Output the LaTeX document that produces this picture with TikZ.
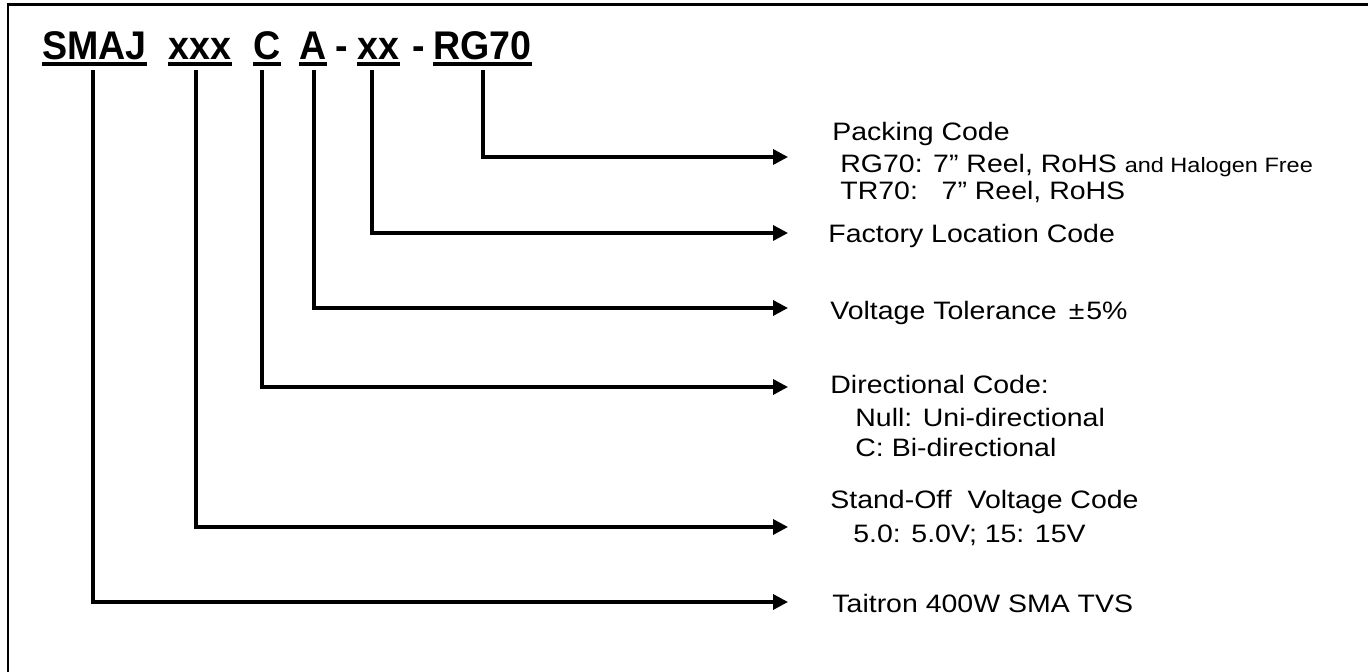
\documentclass[tikz,border=0pt]{standalone}
\usepackage{fontspec}
\setmainfont{Liberation Sans}
\newfontfamily\descfont{Liberation Sans}[FakeStretch=1.13]
\newfontfamily\titlefont{Liberation Sans}[FakeStretch=0.94]
\usetikzlibrary{arrows.meta}
\begin{document}
\begin{tikzpicture}[x=0.5pt,y=-0.5pt,
  ttl/.style={anchor=base west,inner sep=0pt,font=\titlefont\fontsize{20}{22}\selectfont\bfseries},
  desc/.style={anchor=base west,inner sep=0pt,font=\descfont\fontsize{12.6}{15}\selectfont},
  uline/.style={line width=2pt},
  conn/.style={line width=1.7pt,-{Triangle[length=7.5pt,width=7.5pt]}},
  frame/.style={line width=1.2pt}]
\useasboundingbox (0,0) rectangle (1368,672);
\draw[frame] (8,672) -- (8,4.5) -- (1368,4.5);
% title parts
\node[ttl] (smaj) at (42,60) {SMAJ};
\node[ttl] (xxx) at (168,60) {xxx};
\node[ttl] (c) at (253,60) {C};
\node[ttl] (a) at (299,60) {A};
\node[ttl] (d1) at (335,60) {-};
\node[ttl] (xx) at (357,60) {xx};
\node[ttl] (d2) at (412,60) {-};
\node[ttl] (rg) at (433,60) {RG70};
\foreach \n in {smaj,xxx,c,a,xx,rg}
  \draw[uline] ([yshift=-2.2pt]\n.base west) -- ([yshift=-2.2pt]\n.base east);
% connector starts
\coordinate (s1) at (93,70);
\coordinate (s2) at (196,70);
\coordinate (s3) at (262,70);
\coordinate (s4) at (314,70);
\coordinate (s5) at (372,70);
\coordinate (s6) at (483,70);
% arrow ends
\coordinate (e6) at (788,157);
\coordinate (e5) at (788,233);
\coordinate (e4) at (788,308);
\coordinate (e3) at (788,387);
\coordinate (e2) at (788,527);
\coordinate (e1) at (788,602);
\draw[conn] (s6) |- (e6);
\draw[conn] (s5) |- (e5);
\draw[conn] (s4) |- (e4);
\draw[conn] (s3) |- (e3);
\draw[conn] (s2) |- (e2);
\draw[conn] (s1) |- (e1);
% descriptions
\node[desc] (p1) at (832,141) {Packing Code};
\node[desc] (p2) at (840,173) {RG70: 7” Reel, RoHS {\fontsize{10.4}{12}\selectfont and Halogen Free}};
\node[desc] (p3) at (840,200) {TR70:\ \ \ 7” Reel, RoHS};
\node[desc] (f1) at (828,243) {Factory Location Code};
\node[desc] (v1) at (830,320) {Voltage Tolerance\hspace{6pt}±\hspace{1pt}5\%};
\node[desc] (dc1) at (830,394) {Directional Code:};
\node[desc] (dc2) at (855,427) {Null: Uni-directional};
\node[desc] (dc3) at (855,457) {C: Bi-directional};
\node[desc] (so1) at (830,509) {Stand-Off\ \ Voltage Code};
\node[desc] (so2) at (853,542) {5.0: 5.0V; 15: 15V};
\node[desc] (t1) at (832,612) {Taitron 400W SMA TVS};
\end{tikzpicture}
\end{document}
